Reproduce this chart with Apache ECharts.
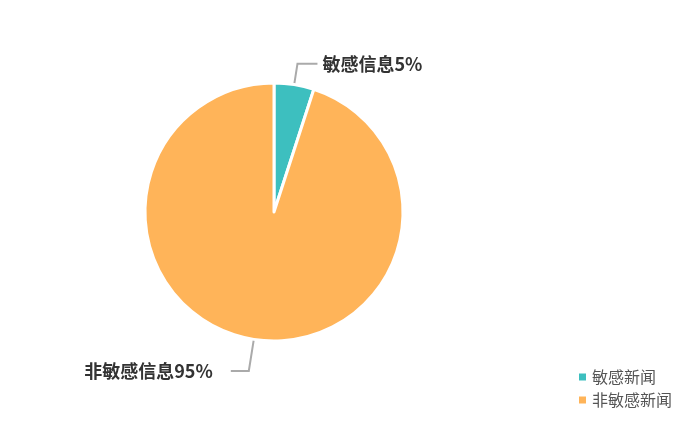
<!DOCTYPE html>
<html><head><meta charset="utf-8">
<script src="https://cdn.jsdelivr.net/npm/echarts@6/dist/echarts.min.js"></script>
<style>html,body{margin:0;padding:0;background:#fff}#c{width:687px;height:430px}</style>
</head><body><div id="c"></div>
<script>
const categories = ['敏感新闻', '非敏感新闻'];
const labelNames = ['敏感信息', '非敏感信息'];
const values = [5, 95];
const colors = ['#3dbfbf', '#ffb459'];

const chart = echarts.init(document.getElementById('c'));
chart.setOption({
  animation: false,
  color: colors,
  legend: {
    orient: 'vertical',
    left: 572, top: 364,
    itemWidth: 9, itemHeight: 9,
    itemGap: 7,
    icon: 'rect',
    textStyle: { color: '#555', fontSize: 16, fontFamily: 'Noto Sans CJK SC' },
    data: categories
  },
  series: [{
    type: 'pie',
    center: [274, 212],
    radius: [0, 129],
    startAngle: 90,
    itemStyle: { borderColor: '#fff', borderWidth: 3 },
    label: {
      show: true,
      formatter: (p) => labelNames[p.dataIndex] + p.value + '%',
      color: '#333', fontSize: 18, fontWeight: 'bold',
      fontFamily: 'Noto Sans CJK SC'
    },
    labelLine: { length: 21, length2: 20, lineStyle: { color: '#aaa', width: 2 } },
    data: categories.map((c, i) => ({
      name: c, value: values[i],
      labelLine: i === 1 ? { length: 32, length2: 18 } : undefined,
      label: i === 1 ? { distanceToLabelLine: 18 } : undefined
    }))
  }]
});
</script></body></html>
